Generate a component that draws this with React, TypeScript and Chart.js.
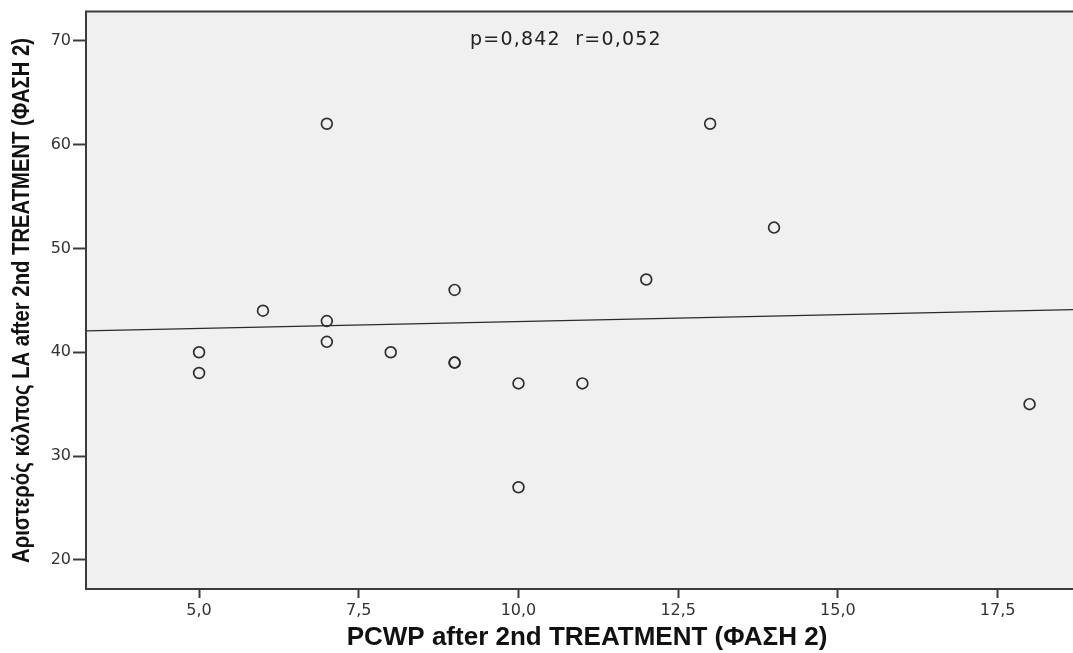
import React, { useEffect, useRef } from "react";
import { Chart, registerables } from "chart.js";

Chart.register(...registerables);

// ---- data ----
const PCWP = [5, 5, 6, 7, 7, 7, 8, 9, 9, 9, 10, 10, 11, 12, 13, 14, 18];
const LA = [40, 38, 44, 62, 43, 41, 40, 46, 39, 39, 37, 27, 37, 47, 62, 52, 35];
const FIT_X = [3.23, 18.68];
const FIT_Y = [42.05, 44.1];
const X_TICKS = [5, 7.5, 10, 12.5, 15, 17.5];
const Y_TICKS = [20, 30, 40, 50, 60, 70];
const X_RANGE = [3.23, 18.68];
const Y_RANGE = [17.2, 72.8];
const X_TITLE = "PCWP after 2nd TREATMENT (ΦΑΣΗ 2)";
const Y_TITLE = "Αριστερός κόλπος LA after 2nd TREATMENT (ΦΑΣΗ 2)";
const STATS_TEXT = "p=0,842  r=0,052";

const W = 1073;
const H = 653;

const framePlugin = {
  id: "spssFrame",
  beforeDraw(chart: any) {
    const { ctx, chartArea: a } = chart;
    ctx.save();
    ctx.fillStyle = "#f0f0f0";
    ctx.fillRect(a.left, a.top, a.right - a.left, a.bottom - a.top);
    ctx.restore();
  },
  afterDraw(chart: any) {
    const { ctx, chartArea: a } = chart;
    ctx.save();
    // frame: left, top, bottom
    ctx.strokeStyle = "#3c3c3c";
    ctx.lineWidth = 2;
    ctx.beginPath();
    ctx.moveTo(a.right + 2, a.top);
    ctx.lineTo(a.left, a.top);
    ctx.lineTo(a.left, a.bottom);
    ctx.lineTo(a.right + 2, a.bottom);
    ctx.stroke();

    // stats annotation
    ctx.fillStyle = "#222";
    ctx.font = "19px 'DejaVu Sans', sans-serif";
    ctx.textAlign = "left";
    ctx.textBaseline = "alphabetic";
    try { (ctx as any).letterSpacing = "1.2px"; } catch (e) {}
    ctx.fillText(STATS_TEXT, 470, 45);
    try { (ctx as any).letterSpacing = "0px"; } catch (e) {}

    // x axis title
    ctx.fillStyle = "#111";
    ctx.font = "bold 26px 'Liberation Sans', Arial, sans-serif";
    ctx.textAlign = "center";
    ctx.fillText(X_TITLE, 587, 645, 484);

    // y axis title
    ctx.translate(29, 300.5);
    ctx.rotate(-Math.PI / 2);
    ctx.font = "bold 24px 'Liberation Sans Narrow', 'Arial Narrow', 'Liberation Sans', sans-serif";
    ctx.textAlign = "center";
    ctx.fillText(Y_TITLE, 0, 0, 525);
    ctx.restore();
  },
};

export default function App() {
  const ref = useRef<HTMLCanvasElement | null>(null);

  useEffect(() => {
    document.body.style.margin = "0";
    if (!ref.current) return;
    const points = PCWP.map((x, i) => ({ x, y: LA[i] }));
    const fit = FIT_X.map((x, i) => ({ x, y: FIT_Y[i] }));
    const chart = new Chart(ref.current, {
      type: "scatter",
      data: {
        datasets: [
          {
            type: "line",
            data: fit,
            borderColor: "#2a2a2a",
            borderWidth: 1.2,
            pointRadius: 0,
            fill: false,
            order: 2,
          } as any,
          {
            type: "scatter",
            data: points,
            pointStyle: "circle",
            pointRadius: 5.4,
            borderWidth: 1.7,
            borderColor: "#2e2e2e",
            backgroundColor: "rgba(0,0,0,0)",
            order: 1,
          },
        ],
      },
      options: {
        responsive: false,
        animation: false,
        events: [],
        layout: { autoPadding: false, padding: { top: 11, right: 0, left: 0, bottom: 0 } },
        plugins: {
          legend: { display: false },
          tooltip: { enabled: false },
          title: { display: false },
        },
        scales: {
          x: {
            type: "linear",
            min: X_RANGE[0],
            max: X_RANGE[1],
            afterBuildTicks: (s: any) => {
              s.ticks = X_TICKS.map((v) => ({ value: v }));
            },
            afterFit: (s: any) => {
              s.height = 64;
            },
            border: { display: false },
            grid: {
              display: true,
              drawOnChartArea: false,
              drawTicks: true,
              tickLength: 9,
              tickColor: "#3c3c3c",
              tickWidth: 2,
            },
            ticks: {
              padding: 3,
              maxRotation: 0,
              autoSkip: false,
              color: "#333",
              font: { family: "'DejaVu Sans', sans-serif", size: 16 },
              callback: (v: any) => Number(v).toFixed(1).replace(".", ","),
            },
          },
          y: {
            type: "linear",
            min: Y_RANGE[0],
            max: Y_RANGE[1],
            afterBuildTicks: (s: any) => {
              s.ticks = Y_TICKS.map((v) => ({ value: v }));
            },
            afterFit: (s: any) => {
              s.width = 86;
            },
            border: { display: false },
            grid: {
              display: true,
              drawOnChartArea: false,
              drawTicks: true,
              tickLength: 13,
              tickColor: "#3c3c3c",
              tickWidth: 2,
            },
            ticks: {
              padding: 2,
              autoSkip: false,
              color: "#333",
              font: { family: "'DejaVu Sans', sans-serif", size: 16 },
              callback: (v: any) => String(v),
            },
          },
        },
      },
      plugins: [framePlugin],
    });
    return () => chart.destroy();
  }, []);

  return (
    <div style={{ position: "fixed", left: 0, top: 0, width: W, height: H, background: "#fff" }}>
      <canvas ref={ref} width={W} height={H} style={{ display: "block", width: W, height: H }} />
    </div>
  );
}
